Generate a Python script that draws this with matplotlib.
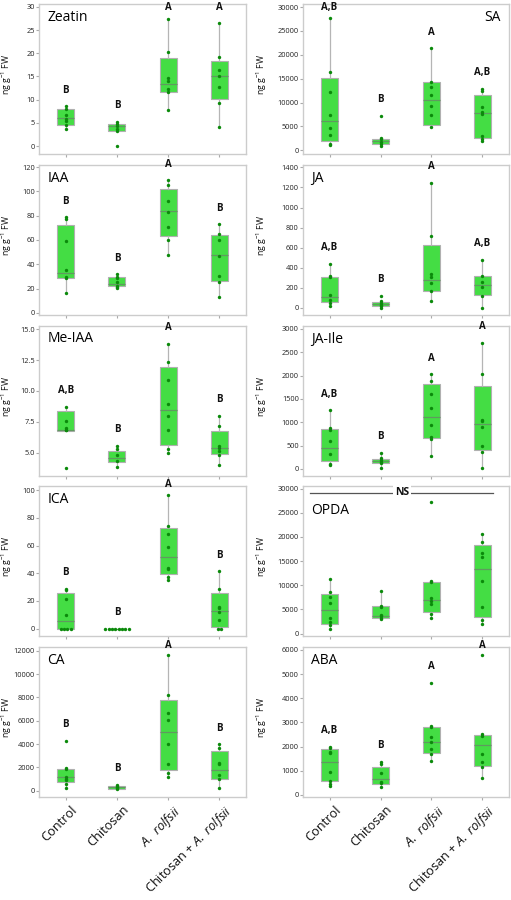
import numpy as np
import matplotlib
matplotlib.use("Agg")
import matplotlib.pyplot as plt
from matplotlib.ticker import FormatStrFormatter
from matplotlib.transforms import ScaledTranslation

plt.rcParams["font.family"] = ["Open Sans", "DejaVu Sans"]
plt.rcParams["mathtext.fontset"] = "custom"
plt.rcParams["mathtext.rm"] = "Open Sans"
plt.rcParams["mathtext.it"] = "Open Sans:italic"
plt.rcParams["mathtext.default"] = "regular"

groups = ["Control", "Chitosan", r"$\mathit{A.\ rolfsii}$",
          r"Chitosan + $\mathit{A.\ rolfsii}$"]

# ---- data (ng g-1 FW), box = (q1, median, q3) ----
zeatin_pts = [[8.6, 7.9, 6.6, 5.9, 5.3, 4.5, 3.6],
              [5.2, 4.7, 4.3, 3.7, 3.3, 0.0],
              [27.3, 20.3, 14.6, 14.1, 12.4, 11.6, 7.8],
              [26.6, 19.1, 16.4, 15.0, 12.7, 9.3, 4.2]]
zeatin_box = [(4.6, 6.1, 8.0), (3.3, 4.4, 4.7), (11.6, 13.3, 18.9), (10.1, 15.0, 18.4)]
zeatin_sig = ["B", "B", "A", "A"]

sa_pts = [[27600, 16300, 12300, 7300, 4700, 3200, 1330, 1190],
          [7200, 2650, 2300, 1800, 1400, 980],
          [21400, 14400, 13300, 11600, 9300, 7300, 4800],
          [12900, 12500, 9100, 8000, 7700, 3000, 2300, 1950]]
sa_box = [(1900, 6100, 15100), (1260, 1880, 2370), (5400, 10500, 14200), (2600, 7900, 11500)]
sa_sig = ["A,B", "B", "A", "A,B"]

iaa_pts = [[78.6, 76.9, 59.1, 35.2, 29.7, 28.6, 16.2],
           [31.6, 29.7, 28.6, 25.0, 22.5, 21.2, 20.1],
           [109.3, 105.5, 92.0, 83.2, 70.9, 60.2, 47.5],
           [72.8, 65.1, 59.6, 47.2, 30.5, 25.0, 12.9]]
iaa_box = [(28.3, 32.4, 72.5), (21.7, 23.4, 29.1), (63.2, 83.5, 101.9), (26.6, 47.5, 64.0)]
iaa_sig = ["B", "B", "A", "B"]

ja_pts = [[440, 320, 303, 127, 80, 47, 20],
          [117, 63, 43, 30, 17, 0],
          [1247, 720, 337, 310, 243, 163, 67],
          [477, 320, 260, 203, 120, 0]]
ja_box = [(53, 107, 303), (20, 40, 53), (163, 280, 623), (127, 227, 320)]
ja_sig = ["A,B", "B", "A", "A,B"]

meiaa_pts = [[8.70, 7.57, 6.98, 6.87, 6.82, 3.77],
             [5.54, 5.27, 4.84, 4.30, 3.87],
             [13.81, 12.31, 10.92, 8.96, 7.95, 6.85, 5.27, 4.97],
             [8.00, 7.17, 5.54, 5.38, 5.16, 4.84, 4.04]]
meiaa_box = [(6.77, 6.87, 8.38), (4.25, 4.54, 5.13), (5.62, 8.43, 11.96), (4.87, 5.38, 6.77)]
meiaa_sig = ["A,B", "B", "A", "B"]

jaile_pts = [[1257, 881, 838, 597, 320, 114, 78],
             [348, 227, 185, 156, 128, 28],
             [2031, 1875, 1605, 1300, 938, 682, 632, 284],
             [2699, 2038, 1037, 1016, 895, 483, 369, 21]]
jaile_box = [(163, 447, 852), (128, 170, 220), (653, 1115, 1811), (405, 959, 1783)]
jaile_sig = ["A,B", "B", "A", "A"]

ica_pts = [[28.7, 27.5, 21.7, 9.9, 0, 0, 0, 0],
           [0, 0, 0, 0, 0, 0, 0, 0],
           [96.9, 74.2, 68.4, 59.3, 43.9, 42.7, 37.6, 34.9],
           [41.4, 28.4, 15.9, 14.9, 12.3, 6.3, 0, 0]]
ica_box = [(0, 5.1, 26.0), (0, 0, 0), (39.5, 51.6, 72.8), (1.2, 13.0, 25.5)]
ica_sig = ["B", "B", "A", "B"]

opda_pts = [[11310, 8620, 7660, 6410, 3310, 2410, 1720, 970],
            [8830, 5790, 5520, 3930, 3590, 3240, 3030],
            [27170, 10970, 10690, 7380, 6690, 6210, 4000, 3310],
            [20620, 18900, 16690, 15790, 10900, 5450, 2830, 1930]]
opda_box = [(1930, 4830, 8280), (3310, 3720, 5790), (4480, 6900, 10760), (3450, 13380, 18340)]
opda_ns_level = 29100

ca_pts = [[4257, 1943, 1829, 1200, 1000, 914, 571, 229],
          [514, 400, 286, 200, 114],
          [11600, 8229, 6686, 6057, 3971, 2286, 1543, 1200],
          [3971, 3629, 2400, 2314, 1314, 971, 200]]
ca_box = [(771, 1143, 1886), (114, 290, 400), (1771, 5000, 7800), (1000, 1771, 3371)]
ca_sig = ["B", "B", "A", "B"]

aba_pts = [[1990, 1930, 1790, 1740, 940, 570, 460, 380],
           [1380, 1270, 900, 540, 480, 320],
           [4650, 2840, 2800, 2390, 2210, 1890, 1710, 1410],
           [5780, 2520, 2440, 1700, 1380, 1150, 690]]
aba_box = [(570, 1350, 1890), (470, 680, 1150), (1750, 2180, 2810), (1200, 2060, 2480)]
aba_sig = ["A,B", "B", "A", "A"]

# title, points, boxes, letters, ylim, yticks, tick format, title placement
panels = [
    ("Zeatin", zeatin_pts, zeatin_box, zeatin_sig, (-1.7, 30.6), np.arange(0, 31, 5), "%d", "left"),
    ("SA", sa_pts, sa_box, sa_sig, (-775, 30630), np.arange(0, 30001, 5000), "%d", "right"),
    ("IAA", iaa_pts, iaa_box, iaa_sig, (-1.6, 122), np.arange(0, 121, 20), "%d", "left"),
    ("JA", ja_pts, ja_box, ja_sig, (-70, 1427), np.arange(0, 1401, 200), "%d", "left"),
    ("Me-IAA", meiaa_pts, meiaa_box, meiaa_sig, (3.15, 15.3), np.arange(5, 15.1, 2.5), "%.1f", "left"),
    ("JA-Ile", jaile_pts, jaile_box, jaile_sig, (-143, 3075), np.arange(0, 3001, 500), "%d", "left"),
    ("ICA", ica_pts, ica_box, ica_sig, (-5.6, 102.9), np.arange(0, 101, 20), "%d", "left"),
    ("OPDA", opda_pts, opda_box, None, (-560, 30475), np.arange(0, 30001, 5000), "%d", "low"),
    ("CA", ca_pts, ca_box, ca_sig, (-540, 12317), np.arange(0, 12001, 2000), "%d", "left"),
    ("ABA", aba_pts, aba_box, aba_sig, (-83, 6124), np.arange(0, 6001, 1000), "%d", "left"),
]

BOX_FC = "#44dd44"
BOX_EC = "#b0b0b0"
MED_C = "#5f9a5f"
WHISK_C = "#b5b5b5"
PT_C = "#0b8a0b"
FRAME_C = "#cccccc"

W, H = 511, 900
fig = plt.figure(figsize=(W / 100, H / 100), dpi=100)
col_x = [39, 303]
col_w = [207, 206]
ylabel_x = [6.5, 262]  # centre of the rotated unit label, in pixels
xpos = np.arange(1, 5)

for i, (title, pts, box, sig, ylim, yticks, fmt, tpos) in enumerate(panels):
    row, col = i // 2, i % 2
    top = 4 + 160.75 * row
    ax = fig.add_axes([col_x[col] / W, 1 - (top + 150) / H, col_w[col] / W, 150 / H])

    stats = []
    for vals, (q1, med, q3) in zip(pts, box):
        iqr = q3 - q1
        inside = [v for v in vals if q1 - 1.5 * iqr <= v <= q3 + 1.5 * iqr]
        stats.append(dict(q1=q1, med=med, q3=q3,
                          whislo=min(min(inside), q1), whishi=max(max(inside), q3),
                          fliers=[]))
    ax.bxp(stats, positions=xpos, widths=0.33, patch_artist=True,
           showcaps=False, showfliers=False,
           boxprops=dict(facecolor=BOX_FC, edgecolor=BOX_EC, linewidth=0.8),
           medianprops=dict(color=MED_C, linewidth=0.9),
           whiskerprops=dict(color=WHISK_C, linewidth=0.9))

    for k, vals in enumerate(pts):
        vals = np.asarray(vals, dtype=float)
        xs = np.full(len(vals), xpos[k], dtype=float)
        for v in np.unique(vals):
            idx = np.where(vals == v)[0]
            if len(idx) > 1:
                xs[idx] += (np.arange(len(idx)) - (len(idx) - 1) / 2) * 0.065
        ax.scatter(xs, vals, s=6, color=PT_C, linewidths=0, zorder=3)

    span = ylim[1] - ylim[0]
    if sig is not None:
        # letters sit above the highest point; top row stays inside the frame
        cap = ylim[1] + (0.012 if row > 0 else -0.022) * span
        for k, (vals, s) in enumerate(zip(pts, sig)):
            y = min(max(vals) + 0.107 * span, cap)
            ax.text(xpos[k], y, s, ha="center", va="center", fontsize=7,
                    fontweight="bold", color="#111111", clip_on=False, zorder=4)
    else:
        ax.plot([0.62, 4.2], [opda_ns_level, opda_ns_level], color="#555555", lw=0.9)
        ax.text(2.42, opda_ns_level, "NS", ha="center", va="center", fontsize=7.5,
                fontweight="bold", color="#111111",
                bbox=dict(facecolor="white", edgecolor="none", pad=1.5))

    if tpos == "right":
        ax.text(0.961, 0.91, title, transform=ax.transAxes, ha="right", va="center", fontsize=10)
    elif tpos == "low":
        ax.text(0.04, 0.84, title, transform=ax.transAxes, ha="left", va="center", fontsize=10)
    else:
        ax.text(0.04, 0.91, title, transform=ax.transAxes, ha="left", va="center", fontsize=10)

    ax.set_xlim(0.48, 4.52)
    ax.set_ylim(*ylim)
    ax.set_yticks(yticks)
    ax.yaxis.set_major_formatter(FormatStrFormatter(fmt))
    ax.set_xticks(xpos)
    for sp in ax.spines.values():
        sp.set_color(FRAME_C)
        sp.set_linewidth(1.0)
    ax.tick_params(axis="both", length=2, width=0.8, color="#aaaaaa",
                   labelsize=5.3, labelcolor="#222222", pad=1)

    fig.text(ylabel_x[col] / W, 1 - (top + 150 * 0.47) / H, r"ng g$^{-1}$ FW",
             rotation=90, ha="center", va="center", fontsize=6.3, color="#111111")

    if row == 4:
        ax.set_xticklabels(groups, rotation=45, ha="right", rotation_mode="anchor",
                           fontsize=9.2, color="#111111")
        offset = ScaledTranslation(5 / 100, -2 / 100, fig.dpi_scale_trans)
        for lab in ax.get_xticklabels():
            lab.set_transform(lab.get_transform() + offset)
    else:
        ax.tick_params(axis="x", labelbottom=False)

fig.savefig("out.png", dpi=100, facecolor="white")
